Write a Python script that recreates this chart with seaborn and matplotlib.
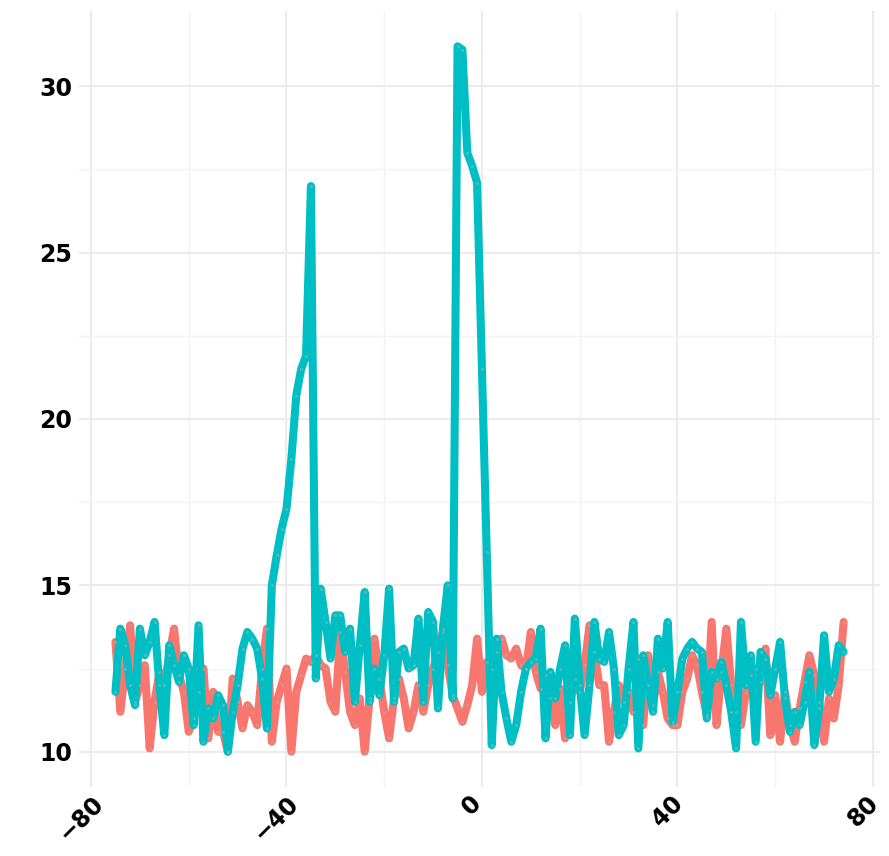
import numpy as np
import pandas as pd
import matplotlib
matplotlib.use("Agg")
import matplotlib.pyplot as plt
import matplotlib.transforms as mtransforms
from matplotlib.ticker import MultipleLocator
import seaborn as sns

# Positions along the x axis (one reading per unit step)
positions = list(range(-75, 75))

# Baseline signal
signal_a = [
    13.3, 11.2, 12.5, 13.8, 11.5, 12.0, 12.6, 10.1, 11.5, 12.4,
    12.0, 12.9, 13.7, 12.3, 11.8, 10.6, 11.0, 11.8, 12.5, 10.4,
    11.8, 10.6, 10.6, 10.0, 12.2, 11.5, 10.7, 11.4, 11.2, 10.8,
    12.5, 13.7, 10.3, 11.5, 12.0, 12.5, 10.0, 11.8, 12.3, 12.8,
    12.7, 12.9, 12.6, 12.5, 11.5, 11.2, 13.6, 12.4, 11.2, 10.8,
    11.6, 10.0, 11.6, 13.4, 12.2, 11.2, 10.4, 11.6, 12.2, 11.6,
    10.7, 11.2, 12.0, 11.2, 12.0, 12.5, 13.0, 13.6, 12.6, 11.7,
    11.3, 10.9, 11.4, 12.0, 13.4, 11.8, 12.7, 12.5, 13.0, 13.4,
    12.9, 12.8, 13.1, 12.6, 12.5, 13.6, 12.4, 11.9, 12.3, 11.6,
    10.8, 11.9, 10.4, 11.5, 12.2, 11.8, 12.6, 13.8, 13.0, 12.0,
    12.0, 10.3, 11.2, 12.0, 11.5, 11.8, 11.2, 12.8, 10.8, 12.9,
    11.4, 12.4, 11.8, 11.0, 10.8, 10.8, 11.8, 12.2, 12.9, 12.6,
    11.8, 11.1, 13.9, 10.8, 12.4, 13.7, 12.0, 11.2, 10.8, 11.8,
    12.3, 12.5, 12.1, 13.1, 10.5, 11.7, 10.3, 11.8, 10.8, 10.3,
    11.3, 12.1, 12.9, 12.3, 11.5, 10.3, 11.6, 11.0, 12.0, 13.9,
]

# Signal with two enrichment peaks
signal_b = [
    11.8, 13.7, 13.2, 12.0, 11.4, 13.7, 12.9, 13.3, 13.9, 12.0,
    10.5, 13.2, 12.6, 12.1, 12.9, 12.5, 10.8, 13.8, 10.3, 11.3,
    11.0, 11.7, 11.4, 10.0, 11.2, 12.0, 13.1, 13.6, 13.4, 13.1,
    12.2, 10.7, 15.0, 15.9, 16.7, 17.3, 18.8, 20.7, 21.5, 21.9,
    27.0, 12.2, 14.9, 13.9, 12.8, 14.1, 14.1, 13.0, 13.7, 11.5,
    13.2, 14.8, 11.5, 12.5, 11.7, 12.9, 14.9, 11.5, 13.0, 13.1,
    12.5, 12.6, 14.0, 11.5, 14.2, 13.9, 11.3, 13.7, 15.0, 11.6,
    31.2, 31.1, 28.0, 27.6, 27.1, 21.5, 16.0, 10.2, 13.4, 11.8,
    11.0, 10.3, 10.8, 11.8, 12.5, 12.7, 12.8, 13.7, 10.4, 12.4,
    11.6, 12.5, 13.2, 10.5, 14.0, 12.0, 10.5, 12.0, 13.9, 12.8,
    12.7, 13.6, 12.5, 10.5, 10.8, 12.5, 13.9, 10.1, 12.9, 12.0,
    11.2, 13.4, 12.5, 13.9, 10.9, 11.8, 12.8, 13.1, 13.3, 13.1,
    13.0, 11.0, 12.4, 12.2, 12.7, 12.0, 11.2, 10.1, 13.9, 12.0,
    12.9, 10.3, 13.0, 12.8, 11.7, 12.5, 13.3, 11.6, 10.6, 11.2,
    10.8, 11.5, 12.4, 10.2, 11.3, 13.5, 11.8, 12.2, 13.2, 13.0,
]

series_names = ["a", "b"]
series_colors = ["#F8766D", "#00BFC4"]

df = pd.DataFrame({
    "position": positions * 2,
    "value": signal_a + signal_b,
    "series": [series_names[0]] * len(signal_a) + [series_names[1]] * len(signal_b),
})

sns.set_theme(style="white")
plt.rcParams["font.family"] = ["DejaVu Sans"]

fig = plt.figure(figsize=(8.89, 8.56), dpi=100)
ax = fig.add_axes([0.0889, 0.0806, 0.9010, 0.9065])

sns.lineplot(data=df, x="position", y="value", hue="series",
             hue_order=series_names, palette=series_colors,
             linewidth=5.8, ax=ax, legend=False, zorder=3)
sns.scatterplot(data=df, x="position", y="value", color="#a9b4b4",
                s=5, alpha=0.5, linewidth=0, ax=ax, legend=False, zorder=4)

vals = signal_a + signal_b
xr = max(positions) - min(positions)
yr = max(vals) - min(vals)
ax.set_xlim(min(positions) - 0.05 * xr, max(positions) + 0.05 * xr)
ax.set_ylim(min(vals) - 0.05 * yr, max(vals) + 0.05 * yr)

ax.xaxis.set_major_locator(MultipleLocator(40))
ax.xaxis.set_minor_locator(MultipleLocator(20))
ax.yaxis.set_major_locator(MultipleLocator(5))
ax.yaxis.set_minor_locator(MultipleLocator(2.5))

ax.grid(which="major", color="#ebebeb", linewidth=1.5, zorder=0)
ax.grid(which="minor", color="#f3f3f3", linewidth=1.0, zorder=0)
ax.set_axisbelow(True)
for s in ax.spines.values():
    s.set_visible(False)

ax.tick_params(axis="both", which="both", length=0, colors="black")
ax.tick_params(axis="y", pad=5)
ax.tick_params(axis="x", pad=3)
for lab in ax.get_yticklabels():
    lab.set_fontsize(17)
    lab.set_fontweight("bold")

# Rotated x labels, nudged slightly left of their ticks
shift = mtransforms.ScaledTranslation(-0.10, 0, fig.dpi_scale_trans)
for lab in ax.get_xticklabels():
    lab.set_fontsize(17)
    lab.set_fontweight("bold")
    lab.set_rotation(45)
    lab.set_ha("center")
    lab.set_va("top")
    lab.set_transform(lab.get_transform() + shift)

ax.set_xlabel("")
ax.set_ylabel("")

fig.savefig("out.png", dpi=100, facecolor="white")
